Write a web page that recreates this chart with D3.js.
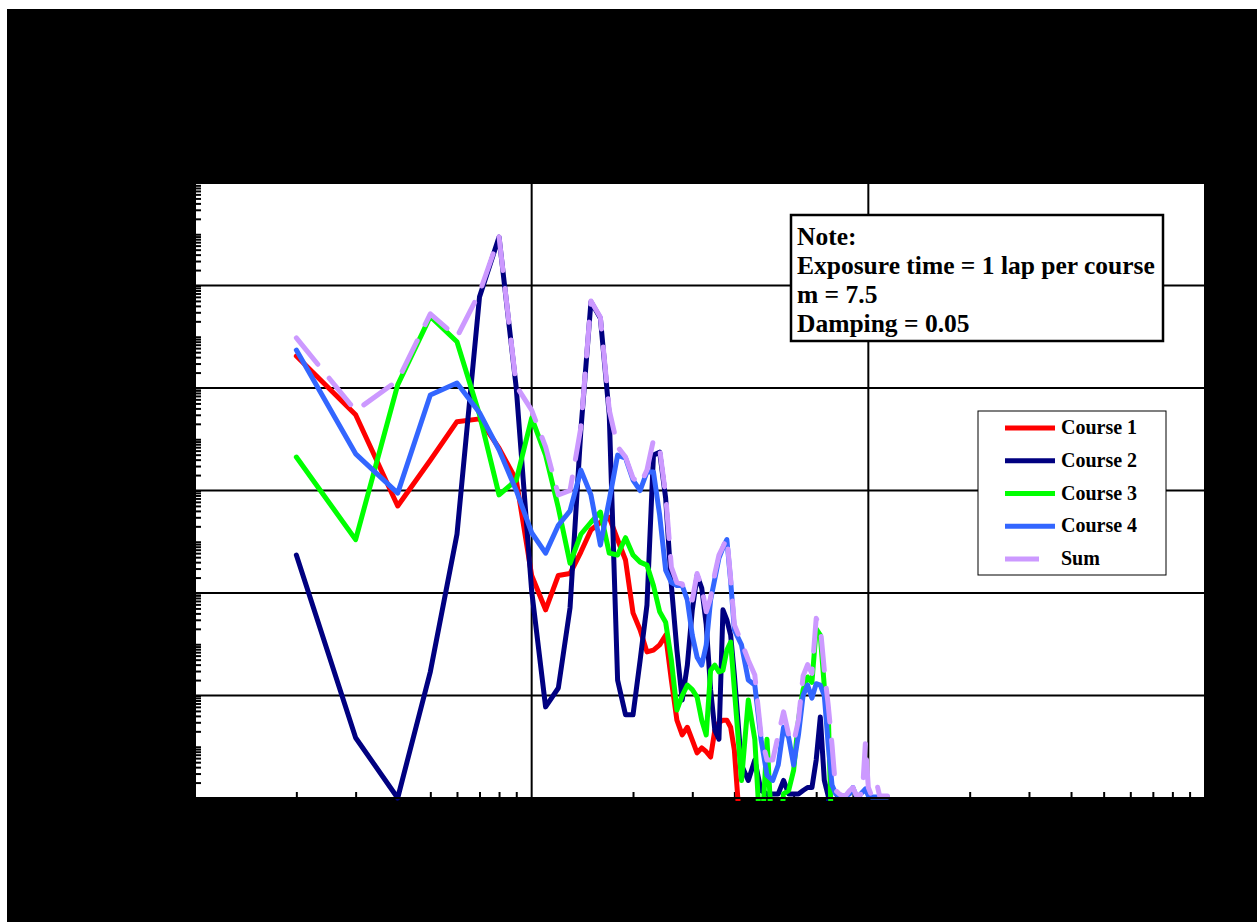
<!DOCTYPE html>
<html><head><meta charset="utf-8">
<script src="https://cdn.jsdelivr.net/npm/d3@7"></script>
<style>body{margin:0;background:#fff;} svg{display:block;}</style>
</head><body><svg id="chart" width="1257" height="922"></svg>
<script>
const titleLines = ["Typical Wheeled Vehicle Vibration Data", "Fatigue Damage Spectra", "4 Test Courses, 1 Lap, Y Axis"];
const xTitle = "Frequency (Hz)";
const yTitle = "Damage Index";
const xTickValues = [1, 10, 100, 1000];
const xTickLabels = ["1", "10", "100", "1000"];
const yTickValues = [1e-10, 1e-8, 1e-6, 1e-4, 1e-2, 1e0, 1e2];
const yTickLabels = ["1.00E-10", "1.00E-08", "1.00E-06", "1.00E-04", "1.00E-02", "1.00E+00", "1.00E+02"];
const seriesNames = ["Course 1", "Course 2", "Course 3", "Course 4", "Sum"];
const noteLines = ["Note:", "Exposure time = 1 lap per course", "m = 7.5", "Damping = 0.05"];

const frequency = [2,3,4,5,6,7,8,9,10,11,12,13,14,15,16,17,18,19,20,21,22,23,24,25,26,27,28,29,30,31,32,33,34,35,36,37,38,39,40,
  42,44,46,48,50,52,54,56,58,60,62,64,66,68,70,72,74,76,78,80,82,84,86,88,90,92,94,96,98,100,102,104,106,108,110,112,114];

const course1 = [4.2e-2,3.0e-3,5.0e-5,3.9e-4,2.2e-3,2.5e-3,6.7e-4,1.6e-4,2.2e-6,4.7e-7,2.2e-6,2.4e-6,6.3e-6,1.7e-5,2.4e-5,3.0e-5,1.1e-5,4.4e-6,4.1e-7,1.9e-7,7.1e-8,7.7e-8,9.7e-8,1.5e-7,2.0e-8,3.3e-9,1.7e-9,2.4e-9,1.35e-9,7.6e-10,9.5e-10,8.0e-10,6.3e-10,2.1e-9,3.0e-9,3.3e-9,3.3e-9,2.4e-9,8.6e-10,
  1e-11,1e-11,1e-11,1e-11,1e-11,1e-11,1e-11,1e-11,1e-11,1e-11,1e-11,1e-11,1e-11,1e-11,1e-11,1e-11,1e-11,1e-11,1e-11,1e-11,1e-11,1e-11,1e-11,1e-11,1e-11,1e-11,1e-11,1e-11,1e-11,1e-11,1e-11,1e-11,1e-11,1e-11,1e-11,1e-11,1e-11];

const course2 = [5.5e-6,1.5e-9,1.0e-10,2.9e-8,1.4e-5,0.6,8.8,1.0e-2,1.1e-6,6.0e-9,1.4e-8,5.1e-7,1.5e-3,0.48,0.23,3.0e-3,2.0e-8,4.2e-9,4.2e-9,4.9e-8,5.8e-7,4.9e-4,5.6e-4,7.1e-5,1.4e-6,7.7e-8,8.2e-9,3.9e-8,4.7e-7,2.2e-6,1.25e-6,2.4e-7,1.3e-8,2.1e-9,1.4e-9,4.7e-7,3.0e-7,1.5e-7,2.5e-8,
  4.4e-10,2.2e-10,5.5e-10,1.4e-10,1.2e-10,1.2e-10,1.2e-10,2.2e-10,1.2e-10,1.2e-10,1.2e-10,1.4e-10,1.6e-10,1.6e-10,5.5e-10,3.8e-9,2.2e-10,1.1e-10,1e-11,1e-11,1e-11,1e-11,1e-11,1e-11,1e-11,1e-11,1e-11,1e-11,1e-11,1e-11,1e-11,1e-11,1e-11,1e-11,1e-11,1e-11,1e-11];

const course3 = [4.5e-4,1.1e-5,1.15e-2,0.25,8.0e-2,3.0e-3,8.2e-5,1.6e-4,2.6e-3,4.9e-4,4.6e-5,3.8e-6,1.4e-5,2.4e-5,3.8e-5,6.0e-6,5.5e-6,1.2e-5,5.5e-6,4.0e-6,3.5e-6,1.4e-6,4.3e-7,2.7e-7,4.9e-8,5.2e-9,1.0e-8,1.6e-8,1.3e-8,9.3e-9,3.3e-9,1.7e-9,3.1e-8,3.9e-8,2.9e-8,3.1e-8,7.7e-8,1.1e-7,1.3e-8,
  2.2e-10,8.2e-9,1.4e-9,1e-11,1.4e-9,1e-11,1e-11,1.2e-10,1.4e-10,3.5e-10,3.3e-9,1.3e-8,2.3e-8,1.8e-8,2.0e-7,1.5e-7,1.5e-8,5.0e-9,1e-11,1e-11,1e-11,1e-11,1e-11,1e-11,1e-11,1e-11,1e-11,1e-11,1e-11,1e-11,1e-11,1e-11,1e-11,1e-11,1e-11,1e-11,1e-11];

const course4 = [5.5e-2,5.2e-4,8.9e-5,7.3e-3,1.25e-2,3.3e-3,6.2e-4,1.0e-4,1.5e-5,6.0e-6,2.1e-5,4.0e-5,2.5e-4,8.2e-5,8.6e-6,6.5e-5,4.9e-4,4.3e-4,1.6e-4,1.0e-4,2.3e-4,2.3e-4,3.3e-5,2.8e-6,1.6e-6,1.4e-6,1.4e-6,7.3e-7,1.5e-7,5.6e-8,3.9e-8,9.7e-8,7.3e-7,1.9e-6,4.8e-6,7.6e-6,1.1e-5,1.7e-6,1.9e-7,
  9.7e-8,2.0e-8,1.6e-8,1.4e-9,2.8e-10,2.2e-10,4.4e-10,2.4e-9,1.5e-9,4.4e-10,1.7e-9,1.0e-8,1.6e-8,8.9e-9,1.7e-8,1.6e-8,1.0e-8,1.1e-9,1.8e-10,1.2e-10,1.1e-10,1.1e-10,1.1e-10,1.2e-10,1.6e-10,1.1e-10,1.1e-10,1.3e-10,1.5e-10,1.1e-10,1.05e-10,1.05e-10,1.05e-10,1.05e-10,1.05e-10,1.05e-10,1.05e-10];

const sumAll = [9.5e-2,3.6e-3,1.4e-2,0.28,9.9e-2,0.72,8.9,1.1e-2,3.7e-3,7.1e-4,8.2e-5,1.0e-4,1.7e-3,0.5,0.24,3.7e-3,7.1e-4,4.5e-4,1.75e-4,1.3e-4,2.5e-4,9.7e-4,6.5e-4,8.2e-5,3.2e-6,1.6e-6,1.5e-6,8.0e-7,7.3e-7,2.4e-6,1.3e-6,4.3e-7,8.0e-7,2.4e-6,5.5e-6,8.0e-6,1.2e-5,1.9e-6,2.4e-7,
  1.1e-7,4.9e-8,2.5e-8,1.7e-9,5.5e-10,5.5e-10,1.7e-9,4.8e-9,1.7e-9,1.2e-9,3.3e-9,2.4e-8,4.0e-8,2.7e-8,3.2e-7,2.2e-7,3.1e-8,6.5e-9,1.1e-9,1.4e-10,1.2e-10,1.1e-10,1.15e-10,1.4e-10,1.6e-10,1.15e-10,1.15e-10,1.2e-10,1.2e-9,1.6e-10,1.15e-10,1.4e-10,1.9e-10,1.1e-10,1.1e-10,1.1e-10,1.1e-10];

const seriesValues = [course1, course2, course3, course4, sumAll];
const seriesColors = ["#FF0000", "#000080", "#00FF00", "#3366FF", "#CC99FF"];

const W = 1257, H = 922;
const plot = {left: 195, top: 183, right: 1205, bottom: 798};
const svg = d3.select("#chart");
const serif = "'Liberation Serif','Times New Roman',serif";

svg.append("rect").attr("x", 7).attr("y", 9).attr("width", W - 7).attr("height", H - 9).attr("fill", "#000");

const x = d3.scaleLog().domain([1, 1000]).range([plot.left, plot.right]);
const y = d3.scaleLog().domain([1e-10, 1e2]).range([plot.bottom, plot.top]);

svg.append("rect").attr("x", plot.left).attr("y", plot.top)
  .attr("width", plot.right - plot.left).attr("height", plot.bottom - plot.top).attr("fill", "#fff");

// grid lines
const grid = svg.append("g");
grid.selectAll("line.h").data(yTickValues.slice(1, -1)).enter().append("line")
  .attr("x1", plot.left).attr("x2", plot.right).attr("y1", d => y(d)).attr("y2", d => y(d))
  .attr("stroke", "#000").attr("stroke-width", 2);
grid.selectAll("line.v").data(xTickValues.slice(1, -1)).enter().append("line")
  .attr("y1", plot.top).attr("y2", plot.bottom).attr("x1", d => x(d)).attr("x2", d => x(d))
  .attr("stroke", "#000").attr("stroke-width", 2);

// minor ticks (inside)
const yMinor = [];
for (let k = -10; k < 2; k++) for (let m = 1; m <= 9; m++) yMinor.push(m * Math.pow(10, k));
const xMinor = [];
for (let k = 0; k < 3; k++) for (let m = 2; m <= 9; m++) xMinor.push(m * Math.pow(10, k));

svg.append("g").attr("transform", `translate(${plot.left},0)`)
  .call(d3.axisLeft(y).tickValues(yMinor).tickSize(-6).tickFormat(""))
  .call(g => g.select(".domain").remove())
  .selectAll("line").attr("stroke", "#000").attr("stroke-width", 2);
svg.append("g").attr("transform", `translate(0,${plot.bottom})`)
  .call(d3.axisBottom(x).tickValues(xMinor).tickSize(-6).tickFormat(""))
  .call(g => g.select(".domain").remove())
  .selectAll("line").attr("stroke", "#000").attr("stroke-width", 2);

// series lines
svg.append("clipPath").attr("id", "clipPlot").append("rect")
  .attr("x", plot.left).attr("y", plot.top - 4).attr("width", plot.right - plot.left).attr("height", plot.bottom - plot.top + 7);
const line = d3.line().x(d => x(d[0])).y(d => y(d[1]));
const lines = svg.append("g").attr("clip-path", "url(#clipPlot)");
seriesValues.forEach((vals, i) => {
  const pts = frequency.map((f, j) => [f, vals[j]]);
  lines.append("path").datum(pts).attr("d", line)
    .attr("fill", "none").attr("stroke", seriesColors[i]).attr("stroke-width", 5)
    .attr("stroke-linejoin", "round").attr("stroke-linecap", "round")
    .attr("stroke-dasharray", i === 4 ? "34,18" : null);
});

// plot border
svg.append("rect").attr("x", plot.left).attr("y", plot.top)
  .attr("width", plot.right - plot.left).attr("height", plot.bottom - plot.top)
  .attr("fill", "none").attr("stroke", "#000").attr("stroke-width", 2);

// axis labels
const yAx = svg.append("g").attr("transform", `translate(${plot.left},0)`)
  .call(d3.axisLeft(y).tickValues(yTickValues).tickFormat((d, i) => yTickLabels[i]).tickSize(0).tickPadding(24));
yAx.select(".domain").remove();
yAx.selectAll("text").attr("font-family", serif).attr("font-size", 22).attr("fill", "#000");

const xAx = svg.append("g").attr("transform", `translate(0,${plot.bottom})`)
  .call(d3.axisBottom(x).tickValues(xTickValues).tickFormat((d, i) => xTickLabels[i]).tickSize(0).tickPadding(20));
xAx.select(".domain").remove();
xAx.selectAll("text").attr("font-family", serif).attr("font-size", 22).attr("fill", "#000");

// titles
titleLines.forEach((t, i) => {
  svg.append("text").attr("x", 636).attr("y", 53 + i * 40).attr("text-anchor", "middle")
    .attr("font-family", serif).attr("font-size", 34).attr("font-weight", "bold").attr("fill", "#000").text(t);
});
svg.append("text").attr("x", 708).attr("y", 897).attr("text-anchor", "middle")
  .attr("font-family", serif).attr("font-size", 28).attr("font-weight", "bold").attr("fill", "#000").text(xTitle);
svg.append("text").attr("transform", "translate(47,494) rotate(-90)").attr("text-anchor", "middle")
  .attr("font-family", serif).attr("font-size", 28).attr("font-weight", "bold").attr("fill", "#000").text(yTitle);

// note box
const note = svg.append("g");
note.append("rect").attr("x", 791).attr("y", 215).attr("width", 372).attr("height", 126)
  .attr("fill", "#fff").attr("stroke", "#000").attr("stroke-width", 2.5);
noteLines.forEach((t, i) => {
  note.append("text").attr("x", 797).attr("y", 245 + i * 29)
    .attr("font-family", serif).attr("font-size", 25.5).attr("font-weight", "bold").attr("fill", "#000").text(t);
});

// legend
const leg = svg.append("g");
leg.append("rect").attr("x", 978).attr("y", 411).attr("width", 188).attr("height", 164)
  .attr("fill", "#fff").attr("stroke", "#000").attr("stroke-width", 1);
seriesNames.forEach((n, i) => {
  const yy = 428 + i * 32.75;
  leg.append("line").attr("x1", 1005).attr("x2", 1055).attr("y1", yy).attr("y2", yy)
    .attr("stroke", seriesColors[i]).attr("stroke-width", 5)
    .attr("stroke-dasharray", i === 4 ? "34,18" : null);
  leg.append("text").attr("x", 1061).attr("y", yy + 6)
    .attr("font-family", serif).attr("font-size", 20).attr("font-weight", "bold").attr("fill", "#000").text(n);
});
</script></body></html>
